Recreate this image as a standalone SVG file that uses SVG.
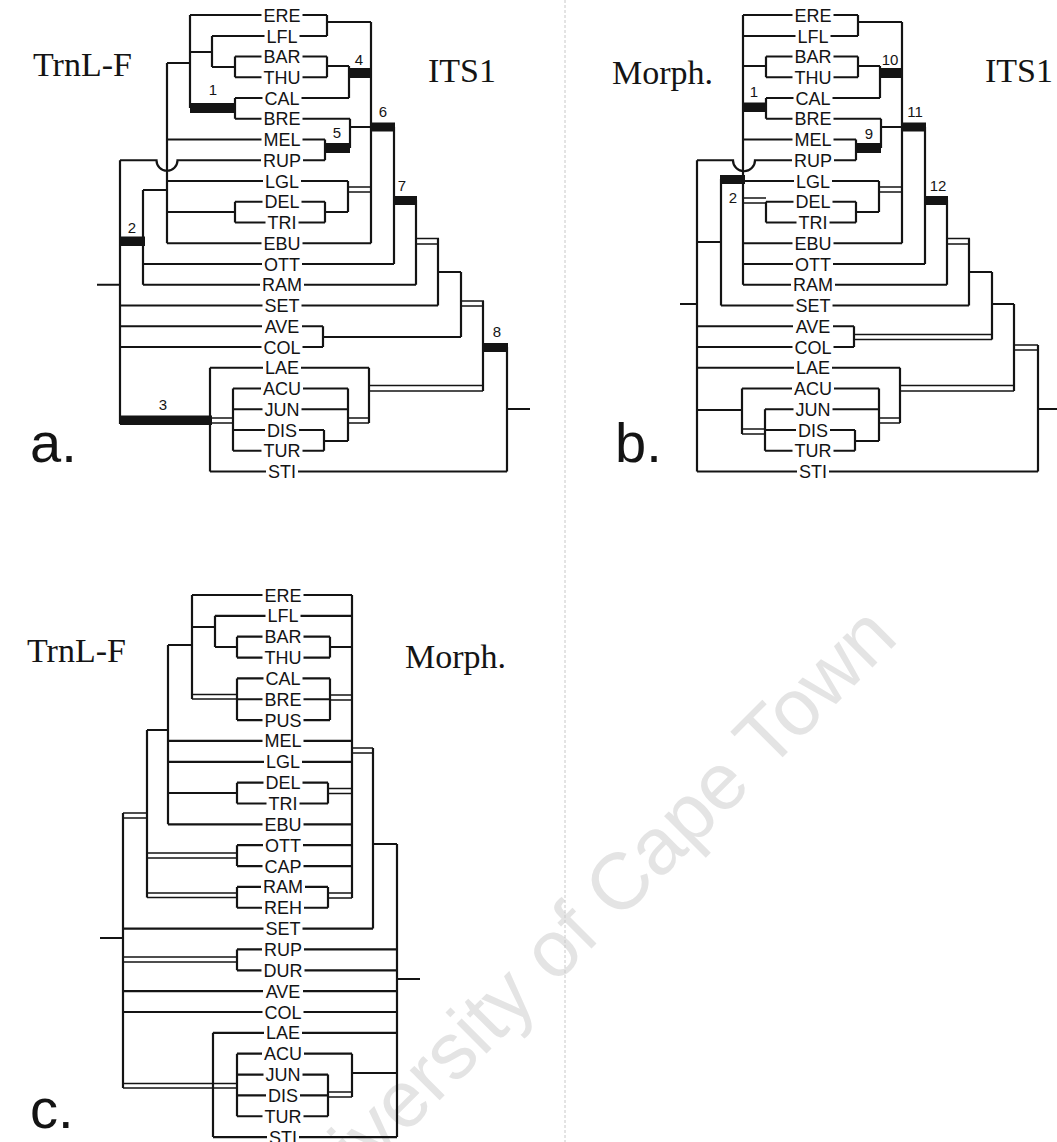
<svg xmlns="http://www.w3.org/2000/svg" width="1057" height="1142" viewBox="0 0 1057 1142">
<style>
.l{fill:none;stroke:#141414;stroke-width:2.2}
.d{fill:none;stroke:#141414;stroke-width:1.6}
.b{fill:#141414}
.t{font-family:"Liberation Sans",Arial,sans-serif;font-size:18px;text-anchor:middle;fill:#141414}
.n{font-family:"Liberation Sans",Arial,sans-serif;font-size:15px;text-anchor:middle;fill:#141414}
.h{font-family:"Liberation Serif","Times New Roman",serif;font-size:34px;fill:#141414}
.p{font-family:"Liberation Sans",Arial,sans-serif;font-size:56px;fill:#141414}
.w{font-family:"Liberation Sans",Arial,sans-serif;font-size:80px;fill:#e4e4e4}
</style>
<rect width="1057" height="1142" fill="#fff"/>
<text class="w" transform="translate(900,640) rotate(-45)" text-anchor="end">University of Cape Town</text>
<line x1="565" y1="0" x2="565" y2="1142" stroke="#c8c8c8" stroke-width="1" stroke-dasharray="3 2"/>

<g id="titles">
<text class="h" x="33" y="76">TrnL-F</text>
<text class="h" x="428" y="82">ITS1</text>
<text class="h" x="612" y="84">Morph.</text>
<text class="h" x="985" y="82">ITS1</text>
<text class="h" x="27" y="662">TrnL-F</text>
<text class="h" x="405" y="668">Morph.</text>
<text class="p" x="30" y="462">a.</text>
<text class="p" x="615" y="462">b.</text>
<text class="p" x="30" y="1128">c.</text>
</g>

<g id="connectors">
<path class="l" d="M190,15H261.5M212,36H264.5M235,56.5H261.5M235,77.25H261.5M235,98H262.5M235,118.75H261.5M167,139.5H261.5M120,160.25H156.5A10.5,10.5 0 0 0 177.5,160.25H261M167,181H263M235,201.75H262.5M235,222.5H265.5M167,243.25H261.5M143,264H262M143,284.75H260M120,305.5H262.5M120,326.25H262M120,347H261.5M210,367.75H263M233,388.5H261M233,409.25H262.5M233,430H265M233,450.75H261.5M210,471.5H266"/>
<path class="l" d="M120,160.25V424M143,190V284.75M167,63V243.25M190,15V108M212,36V67M235,56.5V77.25M235,98V118.75M235,201.75V222.5M210,367.75V471.5M233,388.5V450.75M97,284.75H120M143,190H167M167,63H190M190,52H212M212,67H235M167,212H235"/>
<path class="d" d="M210,418H233M210,423H233"/>
<rect class="b" x="190" y="103" width="46" height="10"/>
<rect class="b" x="120" y="236.5" width="25" height="9.5"/>
<rect class="b" x="120" y="415.5" width="92" height="9.5"/>
<path class="l" d="M302.5,15H327M299.5,36H327M302.5,56.5H327M302.5,77.25H327M301.5,98H349M302.5,118.75H350M302.5,139.5H325M303,160.25H325M301,181H348M301.5,201.75H325M298.5,222.5H325M302.5,243.25H371M302,264H394M304,284.75H416M301.5,305.5H438M302,326.25H323M302.5,347H323M301,367.75H369M303,388.5H348M301.5,409.25H348M299,430H324M302.5,450.75H324M298,471.5H507"/>
<path class="l" d="M327,15V36M327,56.5V77.25M349,66V98M350,118.75V148M325,139.5V160.25M325,201.75V222.5M348,181V212M371,22V243.25M394,127V264M416,200V284.75M438,238.5V305.5M461,272V337M323,326.25V347M483,301V391M369,367.75V423M348,388.5V441M324,430V450.75M507,347V471.5M327,22H371M327,66H349M350,127H371M325,212H348M323,337H461M438,272H461M324,441H348M507,409H530"/>
<path class="d" d="M348,187H371M348,192H371M416,238.5H439M416,244H439M461,301H484M461,306H484M369,385.5H483M369,391H483M348,418H369M348,423H369"/>
<rect class="b" x="349" y="68" width="22" height="10"/>
<rect class="b" x="325" y="143" width="25" height="10"/>
<rect class="b" x="371" y="122.5" width="24" height="9"/>
<rect class="b" x="394" y="196" width="23" height="9"/>
<rect class="b" x="483" y="343" width="25" height="9"/>
<path class="l" d="M743,15H792.5M743,36H795.5M766,56.5H792.5M766,77.25H792.5M766,98H793.5M766,118.75H792.5M743,139.5H792.5M697,160.25H733A11,11 0 0 0 755,160.25H792M745,181H794M766,201.75H793.5M766,222.5H796.5M743,243.25H792.5M743,264H793M743,284.75H791M721,305.5H793.5M697,326.25H793M697,347H792.5M697,367.75H794M742,388.5H792M765,409.25H793.5M765,430H796M765,450.75H792.5M697,471.5H797"/>
<path class="l" d="M697,160.25V471.5M721,179V305.5M743,15V284.75M766,56.5V77.25M766,98V118.75M766,201.75V222.5M742,388.5V434M765,409.25V450.75M680,304H697M697,242H721M743,66H766M697,410H742"/>
<path class="d" d="M743,198H766M743,203H766M742,429H765M742,434H765"/>
<rect class="b" x="743" y="102.5" width="24" height="9.5"/>
<rect class="b" x="720" y="175" width="25" height="9"/>
<path class="l" d="M833.5,15H858M830.5,36H858M833.5,56.5H858M833.5,77.25H858M832.5,98H880M833.5,118.75H881M833.5,139.5H856M834,160.25H856M832,181H879M832.5,201.75H856M829.5,222.5H856M833.5,243.25H902M833,264H925M835,284.75H947M832.5,305.5H969M833,326.25H854M833.5,347H854M832,367.75H900M834,388.5H879M832.5,409.25H879M830,430H855M833.5,450.75H855M829,471.5H1038"/>
<path class="l" d="M858,15V36M858,56.5V77.25M880,66V98M881,118.75V148M856,139.5V160.25M856,201.75V222.5M879,181V212M902,22V243.25M925,127V264M947,200V284.75M969,238.5V305.5M992,272V339.5M854,326.25V347M1014,304V391M900,367.75V423M879,388.5V441M855,430V450.75M1038,345V471.5M858,22H902M858,66H880M881,127H902M856,212H879M969,272H992M992,304H1014M855,441H879M1038,409H1057"/>
<path class="d" d="M879,187H902M879,192H902M947,238.5H970M947,244H970M854,334.5H992M854,339.5H992M900,385.5H1014M900,391H1014M879,418H900M879,423H900M1014,345H1038M1014,350H1038"/>
<rect class="b" x="880" y="68" width="22" height="10"/>
<rect class="b" x="856" y="143" width="25" height="10"/>
<rect class="b" x="902" y="122.5" width="24" height="9"/>
<rect class="b" x="925" y="196" width="23" height="9"/>
<path class="l" d="M192,595H262.5M215,615.85H265.5M237,636.7H262.5M237,657.55H262.5M237,678.4H263.5M237,699.25H262.5M237,720.1H262.5M168,740.95H262.5M168,761.8H264M237,782.65H263.5M237,803.5H266.5M168,824.35H262.5M237,845.2H263M237,866.05H262.5M237,886.9H261M237,907.75H262M123,928.6H263.5M237,949.45H262M237,970.3H261.5M123,991.15H263M123,1012H262.5M213,1032.85H264M237,1053.7H262M237,1074.55H263.5M237,1095.4H266M237,1116.25H262.5M213,1137.1H267"/>
<path class="l" d="M123,813V1088M147,730V897.5M168,645V824.35M192,595V699M215,615.85V647M237,636.7V657.55M237,678.4V720.1M237,782.65V803.5M237,845.2V866.05M237,886.9V907.75M237,949.45V970.3M237,1053.7V1116.25M213,1032.85V1137.1M100,938H123M147,730H168M168,645H192M192,627H215M215,647H237M168,793H237"/>
<path class="d" d="M192,694.5H237M192,699H237M123,813H147M123,818H147M147,853H237M147,858H237M147,893H237M147,897.5H237M123,957H237M123,962H237M123,1083.5H237M123,1088H237"/>
<path class="l" d="M303.5,595H352M300.5,615.85H352M303.5,636.7H330M303.5,657.55H330M302.5,678.4H330M303.5,699.25H330M303.5,720.1H330M303.5,740.95H352M302,761.8H352M302.5,782.65H328M299.5,803.5H328M303.5,824.35H352M303,845.2H352M303.5,866.05H352M305,886.9H328M304,907.75H328M302.5,928.6H373M304,949.45H397M304.5,970.3H397M303,991.15H397M303.5,1012H397M302,1032.85H397M304,1053.7H352M302.5,1074.55H328M300,1095.4H328M303.5,1116.25H328M299,1137.1H397"/>
<path class="l" d="M352,595V898M330,636.7V657.55M330,678.4V720.1M328,782.65V803.5M328,886.9V907.75M328,1074.55V1116.25M373,748V928.6M397,844V1137.1M352,1053.7V1097M330,647H352M373,844H397M352,1073H397M397,979H420"/>
<path class="d" d="M330,695H352M330,700H352M328,788.5H352M328,793.5H352M328,893H352M328,898H352M352,748H373M352,753H373M328,1092H352M328,1097H352"/>
</g>

<g id="numbers">
<text class="n" x="213" y="95">1</text>
<text class="n" x="132" y="233">2</text>
<text class="n" x="163" y="410">3</text>
<text class="n" x="359" y="65">4</text>
<text class="n" x="337" y="138">5</text>
<text class="n" x="383" y="117">6</text>
<text class="n" x="402" y="191">7</text>
<text class="n" x="497" y="337">8</text>
<text class="n" x="754" y="97">1</text>
<text class="n" x="733" y="203">2</text>
<text class="n" x="890" y="65">10</text>
<text class="n" x="869" y="139">9</text>
<text class="n" x="915" y="117">11</text>
<text class="n" x="938" y="191">12</text>
</g>

<g id="taxa-a">
<g id="a-ERE"><text class="t" x="282" y="21.5">ERE</text></g>
<g id="a-LFL"><text class="t" x="282" y="42.5">LFL</text></g>
<g id="a-BAR"><text class="t" x="282" y="63">BAR</text></g>
<g id="a-THU"><text class="t" x="282" y="83.75">THU</text></g>
<g id="a-CAL"><text class="t" x="282" y="104.5">CAL</text></g>
<g id="a-BRE"><text class="t" x="282" y="125.25">BRE</text></g>
<g id="a-MEL"><text class="t" x="282" y="146">MEL</text></g>
<g id="a-RUP"><text class="t" x="282" y="166.75">RUP</text></g>
<g id="a-LGL"><text class="t" x="282" y="187.5">LGL</text></g>
<g id="a-DEL"><text class="t" x="282" y="208.25">DEL</text></g>
<g id="a-TRI"><text class="t" x="282" y="229">TRI</text></g>
<g id="a-EBU"><text class="t" x="282" y="249.75">EBU</text></g>
<g id="a-OTT"><text class="t" x="282" y="270.5">OTT</text></g>
<g id="a-RAM"><text class="t" x="282" y="291.25">RAM</text></g>
<g id="a-SET"><text class="t" x="282" y="312">SET</text></g>
<g id="a-AVE"><text class="t" x="282" y="332.75">AVE</text></g>
<g id="a-COL"><text class="t" x="282" y="353.5">COL</text></g>
<g id="a-LAE"><text class="t" x="282" y="374.25">LAE</text></g>
<g id="a-ACU"><text class="t" x="282" y="395">ACU</text></g>
<g id="a-JUN"><text class="t" x="282" y="415.75">JUN</text></g>
<g id="a-DIS"><text class="t" x="282" y="436.5">DIS</text></g>
<g id="a-TUR"><text class="t" x="282" y="457.25">TUR</text></g>
<g id="a-STI"><text class="t" x="282" y="478">STI</text></g>
</g>

<g id="taxa-b">
<g id="b-ERE"><text class="t" x="813" y="21.5">ERE</text></g>
<g id="b-LFL"><text class="t" x="813" y="42.5">LFL</text></g>
<g id="b-BAR"><text class="t" x="813" y="63">BAR</text></g>
<g id="b-THU"><text class="t" x="813" y="83.75">THU</text></g>
<g id="b-CAL"><text class="t" x="813" y="104.5">CAL</text></g>
<g id="b-BRE"><text class="t" x="813" y="125.25">BRE</text></g>
<g id="b-MEL"><text class="t" x="813" y="146">MEL</text></g>
<g id="b-RUP"><text class="t" x="813" y="166.75">RUP</text></g>
<g id="b-LGL"><text class="t" x="813" y="187.5">LGL</text></g>
<g id="b-DEL"><text class="t" x="813" y="208.25">DEL</text></g>
<g id="b-TRI"><text class="t" x="813" y="229">TRI</text></g>
<g id="b-EBU"><text class="t" x="813" y="249.75">EBU</text></g>
<g id="b-OTT"><text class="t" x="813" y="270.5">OTT</text></g>
<g id="b-RAM"><text class="t" x="813" y="291.25">RAM</text></g>
<g id="b-SET"><text class="t" x="813" y="312">SET</text></g>
<g id="b-AVE"><text class="t" x="813" y="332.75">AVE</text></g>
<g id="b-COL"><text class="t" x="813" y="353.5">COL</text></g>
<g id="b-LAE"><text class="t" x="813" y="374.25">LAE</text></g>
<g id="b-ACU"><text class="t" x="813" y="395">ACU</text></g>
<g id="b-JUN"><text class="t" x="813" y="415.75">JUN</text></g>
<g id="b-DIS"><text class="t" x="813" y="436.5">DIS</text></g>
<g id="b-TUR"><text class="t" x="813" y="457.25">TUR</text></g>
<g id="b-STI"><text class="t" x="813" y="478">STI</text></g>
</g>

<g id="taxa-c">
<g id="c-ERE"><text class="t" x="283" y="601.5">ERE</text></g>
<g id="c-LFL"><text class="t" x="283" y="622.35">LFL</text></g>
<g id="c-BAR"><text class="t" x="283" y="643.2">BAR</text></g>
<g id="c-THU"><text class="t" x="283" y="664.05">THU</text></g>
<g id="c-CAL"><text class="t" x="283" y="684.9">CAL</text></g>
<g id="c-BRE"><text class="t" x="283" y="705.75">BRE</text></g>
<g id="c-PUS"><text class="t" x="283" y="726.6">PUS</text></g>
<g id="c-MEL"><text class="t" x="283" y="747.45">MEL</text></g>
<g id="c-LGL"><text class="t" x="283" y="768.3">LGL</text></g>
<g id="c-DEL"><text class="t" x="283" y="789.15">DEL</text></g>
<g id="c-TRI"><text class="t" x="283" y="810">TRI</text></g>
<g id="c-EBU"><text class="t" x="283" y="830.85">EBU</text></g>
<g id="c-OTT"><text class="t" x="283" y="851.7">OTT</text></g>
<g id="c-CAP"><text class="t" x="283" y="872.55">CAP</text></g>
<g id="c-RAM"><text class="t" x="283" y="893.4">RAM</text></g>
<g id="c-REH"><text class="t" x="283" y="914.25">REH</text></g>
<g id="c-SET"><text class="t" x="283" y="935.1">SET</text></g>
<g id="c-RUP"><text class="t" x="283" y="955.95">RUP</text></g>
<g id="c-DUR"><text class="t" x="283" y="976.8">DUR</text></g>
<g id="c-AVE"><text class="t" x="283" y="997.65">AVE</text></g>
<g id="c-COL"><text class="t" x="283" y="1018.5">COL</text></g>
<g id="c-LAE"><text class="t" x="283" y="1039.35">LAE</text></g>
<g id="c-ACU"><text class="t" x="283" y="1060.2">ACU</text></g>
<g id="c-JUN"><text class="t" x="283" y="1081.05">JUN</text></g>
<g id="c-DIS"><text class="t" x="283" y="1101.9">DIS</text></g>
<g id="c-TUR"><text class="t" x="283" y="1122.75">TUR</text></g>
<g id="c-STI"><text class="t" x="283" y="1143.6">STI</text></g>
</g>
</svg>
